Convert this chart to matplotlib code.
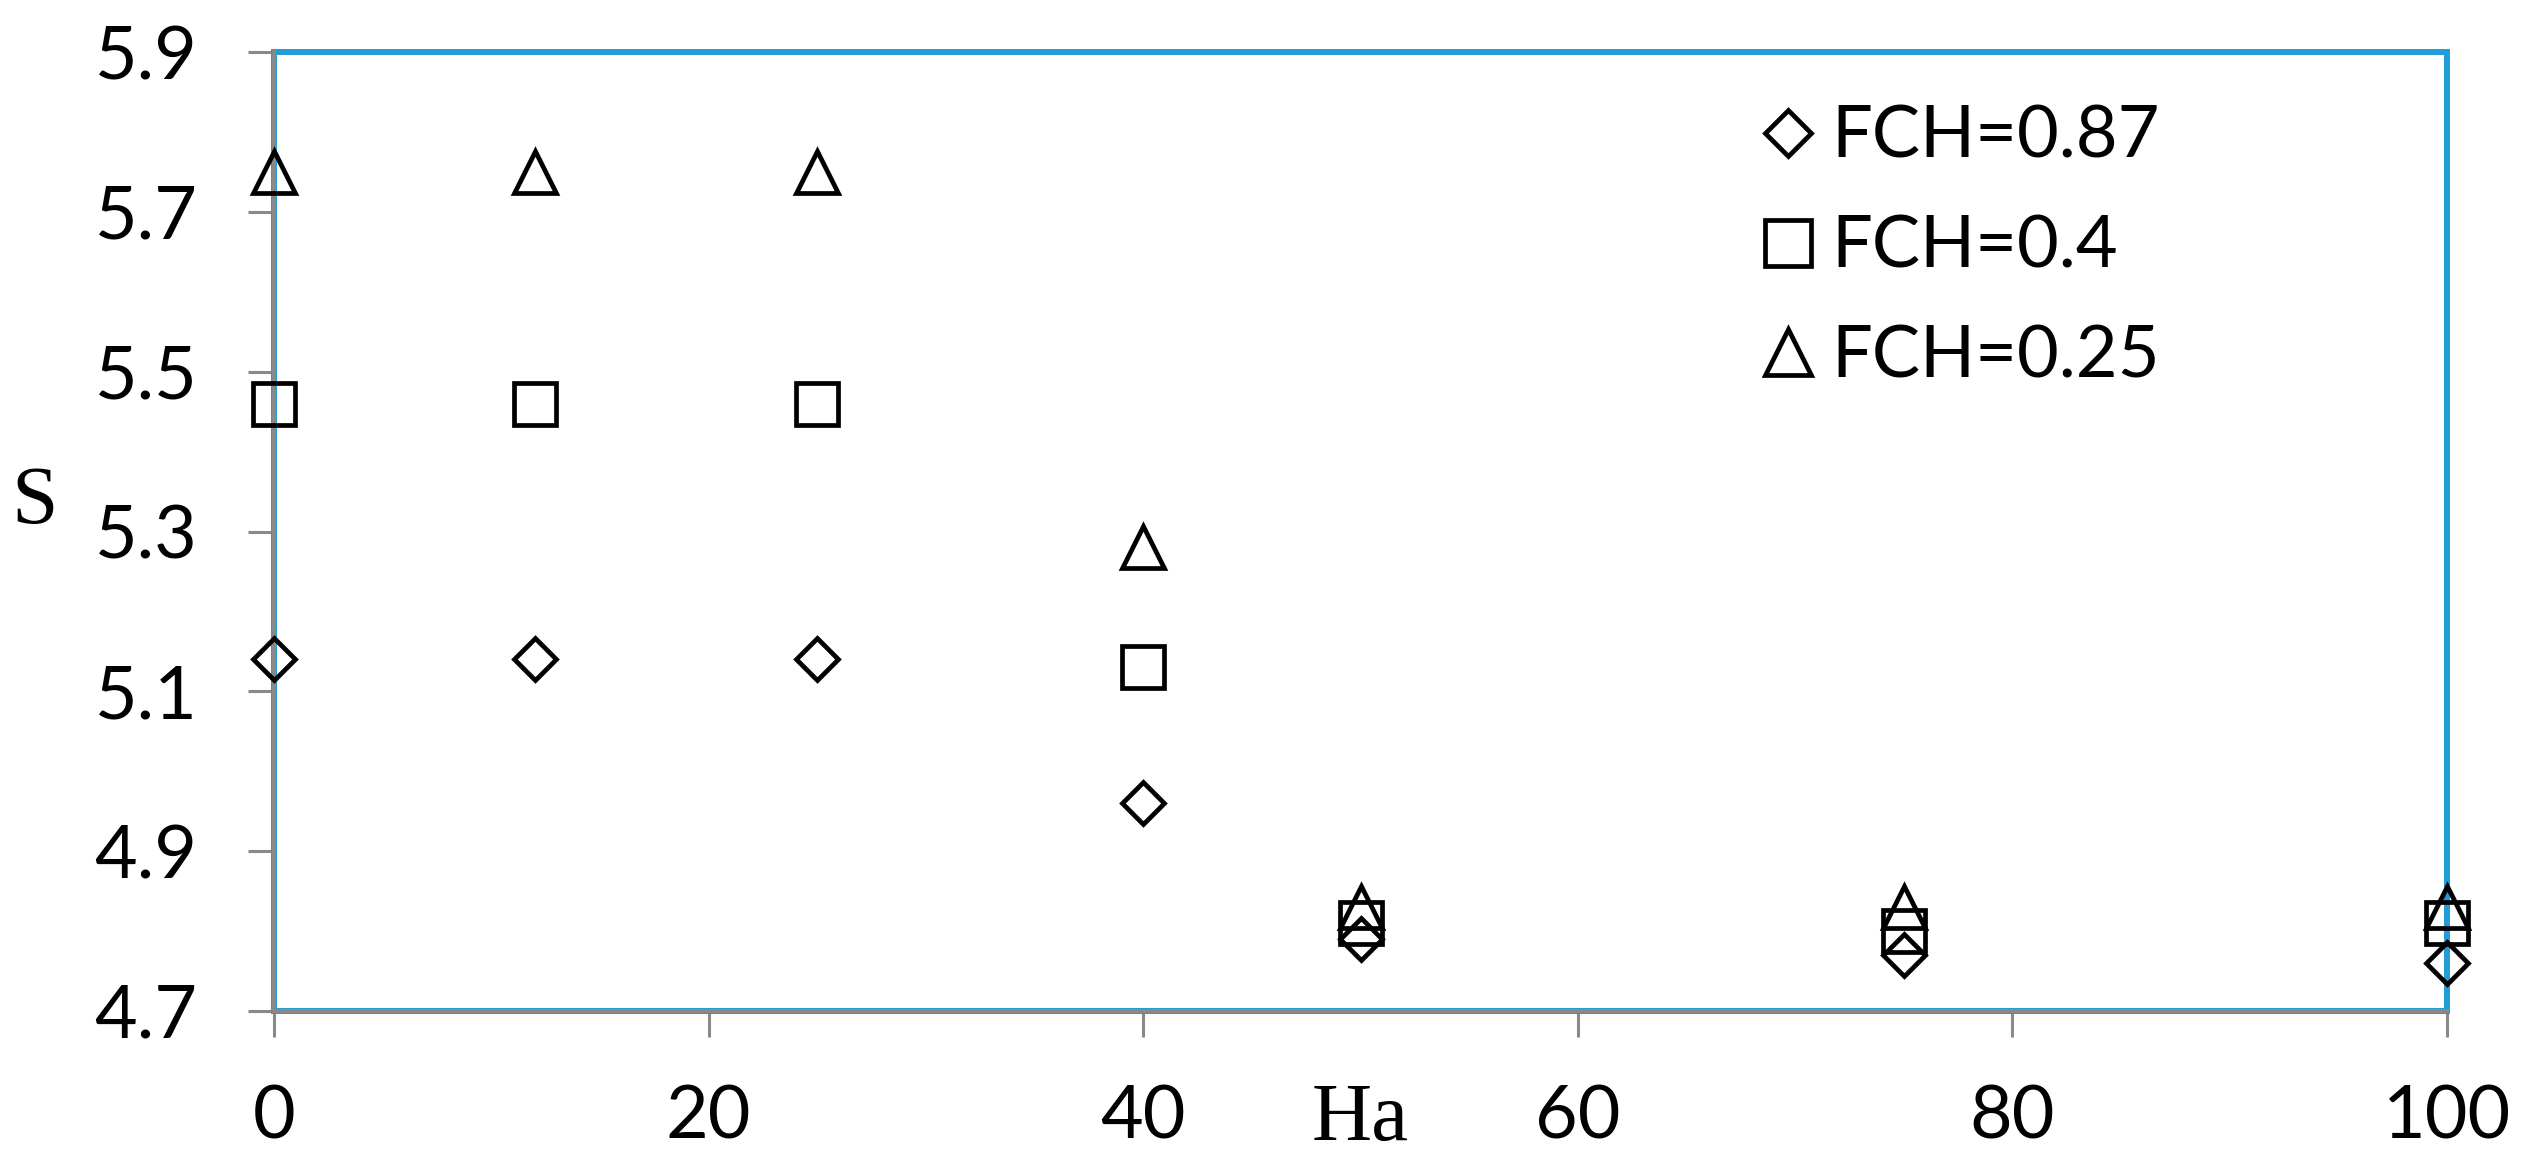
import matplotlib
matplotlib.use("Agg")
import matplotlib.pyplot as plt
from matplotlib.patches import Rectangle
from matplotlib.transforms import blended_transform_factory

ha = [0, 12, 25, 40, 50, 75, 100]
s_087 = [5.14, 5.14, 5.14, 4.96, 4.79, 4.77, 4.76]
s_04 = [5.46, 5.46, 5.46, 5.13, 4.81, 4.80, 4.81]
s_025 = [5.75, 5.75, 5.75, 5.28, 4.83, 4.83, 4.83]
labels = ["FCH=0.87", "FCH=0.4", "FCH=0.25"]
x_ticks = [0, 20, 40, 60, 80, 100]
y_ticks = [4.7, 4.9, 5.1, 5.3, 5.5, 5.7, 5.9]

BLUE = "#229cd9"
GRAY = "#898989"
W, H = 2526, 1174

plt.rcParams["font.family"] = ["Lato", "DejaVu Sans"]

fig = plt.figure(figsize=(W / 100, H / 100), dpi=100)
ax = fig.add_axes([274 / W, 1 - 1011 / H, (2447 - 274) / W, (1011 - 52) / H])

mk = dict(ls="none", mfc="none", mec="black", mew=3.4, clip_on=False, zorder=5)
ax.plot(ha, s_087, marker="D", ms=21.5, label=labels[0], **mk)
ax.plot(ha, s_04, marker="s", ms=30, label=labels[1], **mk)
ax.plot(ha, s_025, marker="^", ms=30, label=labels[2], **mk)

ax.set_xlim(0, 100)
ax.set_ylim(4.7, 5.9)
ax.set_xticks(x_ticks)
ax.set_yticks(y_ticks)
ax.set_yticklabels([f"{v:.1f}" for v in y_ticks])

# blue frame with grey left/bottom axis lines on top
ax.add_patch(Rectangle((0, 0), 1, 1, transform=ax.transAxes, fill=False,
                       ec=BLUE, lw=4.3, clip_on=False, zorder=2))
for side in ["top", "right"]:
    ax.spines[side].set_visible(False)
for side in ["left", "bottom"]:
    ax.spines[side].set_color(GRAY)
    ax.spines[side].set_linewidth(2.9)
    ax.spines[side].set_zorder(3)

ax.tick_params(axis="both", direction="out", color=GRAY, width=2.2,
               length=19, labelsize=53)
ax.tick_params(axis="y", pad=36)
ax.tick_params(axis="x", pad=34)

ax.text(50, 0.046, "Ha", transform=blended_transform_factory(ax.transData, fig.transFigure),
        ha="center", va="center", fontsize=60, family="Liberation Serif")
fig.text(35 / W, 1 - 503 / H, "S", ha="center", va="center", fontsize=60,
         family="Liberation Serif")

ax.legend(loc="upper left", bbox_to_anchor=(1752 / W, 1 - 105 / H),
          bbox_transform=fig.transFigure, frameon=False, fontsize=52,
          handletextpad=0.1, labelspacing=0.62, handlelength=1.0,
          markerscale=1.1, borderaxespad=0, borderpad=0)

fig.savefig("out.png", dpi=100)
